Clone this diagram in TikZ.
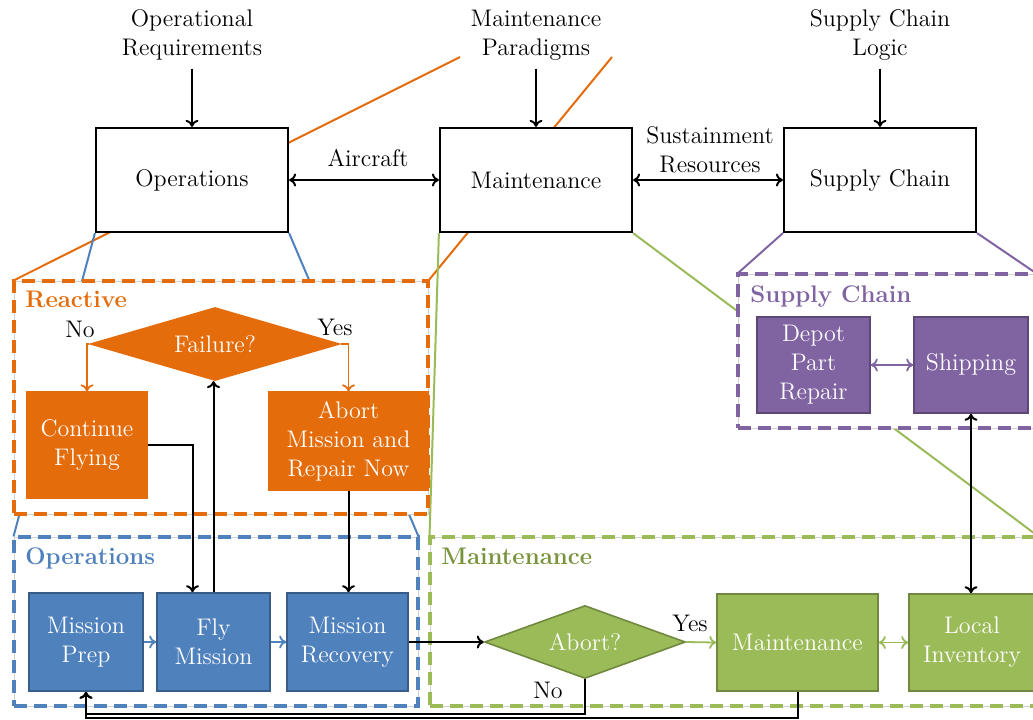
\documentclass[tikz,border=0pt]{standalone}
\usepackage{fontspec}
\usetikzlibrary{shapes.geometric,calc,arrows.meta}

\definecolor{orng}{HTML}{E46C0A}
\definecolor{blu}{HTML}{4F81BD}
\definecolor{bluedge}{HTML}{385D8A}
\definecolor{grn}{HTML}{9BBB59}
\definecolor{grnedge}{HTML}{71893F}
\definecolor{grnlbl}{HTML}{77933C}
\definecolor{purp}{HTML}{8064A2}
\definecolor{purpedge}{HTML}{5C4776}

\pgfdeclarelayer{background}
\pgfsetlayers{background,main}

\begin{document}
\begin{tikzpicture}[x=0.5pt,y=-0.5pt,
  every node/.style={font=\fontsize{12}{14.5}\selectfont},
  >={To[length=3.5pt,width=6.5pt]},
  arr/.style={->,line width=1pt,black},
  oarr/.style={->,line width=0.9pt,orng},
  barr/.style={->,line width=0.9pt,blu},
  garr/.style={->,line width=0.9pt,grn},
  parr/.style={->,line width=0.9pt,purp},
  zoomline/.style={line width=1pt,#1},
  topbox/.style={draw,line width=1.1pt,fill=white,minimum width=96pt,minimum height=52pt,inner sep=2pt},
  toplabel/.style={align=center,inner sep=4pt},
  frame/.style={draw=black!18,line width=0.5pt,fill=white,inner sep=0pt,
    postaction={draw=#1,line width=1.6pt,dash pattern=on 6.5pt off 3.5pt}},
  framelabel/.style={anchor=base west,inner sep=0pt,text=#1,
    font=\fontsize{12}{14.5}\selectfont\bfseries},
  orangebox/.style={fill=orng,draw=orng,line width=0.6pt,text=white,align=center,inner sep=2pt},
  bluebox/.style={fill=blu,draw=bluedge,line width=0.8pt,text=white,align=center,inner sep=2pt,minimum height=49pt},
  greenbox/.style={fill=grn,draw=grnedge,line width=0.8pt,text=white,align=center,inner sep=2pt},
  purplebox/.style={fill=purp,draw=purpedge,line width=0.8pt,text=white,align=center,inner sep=2pt,minimum height=48pt}
]
\useasboundingbox (0,0) rectangle (1033,719);
\clip (0,0) rectangle (1033,719);

% ---- top level: the three subsystems and their inputs ----
\node[topbox] (ops) at (192,180) {Operations};
\node[topbox] (mnt) at (536,180) {Maintenance};
\node[topbox] (sc)  at (880,180) {Supply Chain};

\node[toplabel] (opreq) at (192,35) {Operational\\Requirements};
\node[toplabel] (para)  at (536,35) {Maintenance\\Paradigms};
\node[toplabel] (scl)   at (880,35) {Supply Chain\\Logic};
\coordinate (paraL) at (460,57);
\coordinate (paraR) at (612,57);

\draw[arr] (opreq) -- (ops);
\draw[arr] (para) -- (mnt);
\draw[arr] (scl) -- (sc);

\draw[arr,<->] (ops) -- (mnt);
\node (aircraft) at (368,158) {Aircraft};
\draw[arr,<->] (mnt) -- (sc);
\node[align=center] (sustain) at (710,150) {Sustainment\\Resources};

% ---- detail frames ----
\node[frame=orng, minimum width=207pt, minimum height=116.5pt] (reactive) at (221,397.5) {};
\node[frame=blu,  minimum width=202pt, minimum height=84.5pt]  (opsframe) at (216,621.5) {};
\node[frame=grn,  minimum width=304pt, minimum height=84.5pt]  (mntframe) at (734,621.5) {};
\node[frame=purp, minimum width=149pt, minimum height=77pt]    (scframe)  at (887,351) {};

\node[framelabel=orng]   (reactlbl) at (25,307)  {Reactive};
\node[framelabel=blu]    (opslbl)   at (25,564)  {Operations};
\node[framelabel=grnlbl] (mntlbl)   at (441,564) {Maintenance};
\node[framelabel=purp]   (sclbl)    at (750,302) {Supply Chain};

% ---- reactive maintenance paradigm ----
\node[diamond, orangebox, shape aspect=3.4, minimum width=125pt, minimum height=36.5pt, inner sep=0pt] (fail) at (215,344) {Failure?};
\node[orangebox, minimum width=60pt, minimum height=53pt] (cont) at (87,445) {Continue\\Flying};
\node[orangebox, minimum width=79.5pt, minimum height=49pt] (abnow) at (348.5,441) {Abort\\Mission and\\Repair Now};

\draw[oarr] (fail.west) -| (cont.north);
\node (nolbl) at (80,329) {No};
\draw[oarr] (fail.east) -| (abnow.north);
\node (yeslbl) at (335,327) {Yes};

% ---- operations ----
\node[bluebox, minimum width=57pt]   (prep)  at (86,642)    {Mission\\Prep};
\node[bluebox, minimum width=56.5pt] (fly)   at (213.5,642) {Fly\\Mission};
\node[bluebox, minimum width=60.5pt] (recov) at (347.5,642) {Mission\\Recovery};
\draw[barr] (prep) -- (fly);
\draw[barr] (fly) -- (recov);

\draw[arr] (cont.east) -| ([xshift=-10.5pt]fly.north);
\draw[arr] (fly.north) -- (fly.north |- fail.south);
\draw[arr] (abnow.south) -- (abnow.south |- recov.north);

% ---- maintenance ----
\node[diamond, greenbox, shape aspect=2.75, minimum width=100.5pt, minimum height=36.5pt, inner sep=0pt] (abort) at (585,642) {Abort?};
\node[greenbox, minimum width=80.5pt, minimum height=48.5pt] (gmnt) at (797.5,642.5) {Maintenance};
\node[greenbox, minimum width=63pt, minimum height=48.5pt] (linv) at (972,642.5) {Local\\Inventory};

\draw[arr] (recov.east) -- (abort.west);
\draw[garr] (abort.east) -- (gmnt.west);
\node (yes2) at (690,623) {Yes};
\node (no2) at (548,690) {No};
\draw[garr,<->] (gmnt) -- (linv);

% ---- supply chain ----
\node[purplebox, minimum width=56.5pt] (depot) at (813.5,365) {Depot\\Part\\Repair};
\node[purplebox, minimum width=57pt]   (ship)  at (971,365)   {Shipping};
\draw[parr,<->] (depot) -- (ship);
\draw[arr,<->] (ship.south) -- (ship.south |- linv.north);

% ---- return paths to mission prep ----
\draw[arr] (abort.south) -- ++(0,35) -| (prep.south);
\draw[arr] (gmnt.south) -- ++(0,26) -| (prep.south);

% ---- zoom lines from the subsystems to their detail frames ----
\begin{pgfonlayer}{background}
\draw[zoomline=orng] (reactive.north west) -- (paraL);
\draw[zoomline=orng] (reactive.north east) -- (paraR);
\draw[zoomline=blu]  (ops.south west) -- (opsframe.north west);
\draw[zoomline=blu]  (ops.south east) -- (opsframe.north east);
\draw[zoomline=grn]  (mnt.south west) -- (mntframe.north west);
\draw[zoomline=grn]  (mnt.south east) -- (mntframe.north east);
\draw[zoomline=purp] (sc.south west) -- (scframe.north west);
\draw[zoomline=purp] (sc.south east) -- (scframe.north east);
\end{pgfonlayer}
\end{tikzpicture}
\end{document}
